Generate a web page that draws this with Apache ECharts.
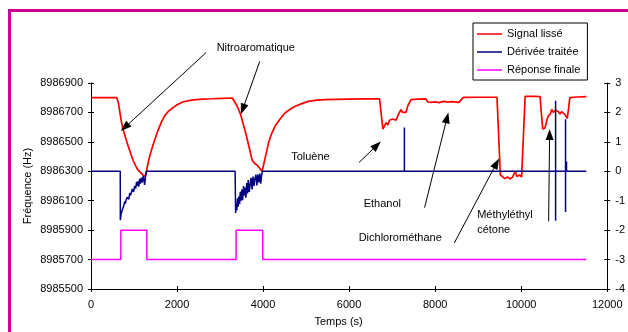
<!DOCTYPE html>
<html>
<head>
<meta charset="utf-8">
<script src="https://cdn.jsdelivr.net/npm/echarts@6/dist/echarts.min.js"></script>
<style>
  html, body { margin: 0; padding: 0; background: #fff; }
  #wrap { position: relative; width: 628px; height: 332px; overflow: hidden; }
  #chart { position: absolute; left: 0; top: 0; width: 628px; height: 332px; }
  #frame { position: absolute; left: 8px; top: 9px; width: 700px; height: 400px;
           border-left: 3px solid #cc0099; border-top: 3px solid #cc0099; pointer-events: none; }
</style>
</head>
<body>
<div id="wrap"><div id="chart"></div><div id="frame"></div></div>
<script>
// signal lissé (Hz, left axis)
const signalTime = [0, 600, 640, 708, 760, 823, 900, 977, 1040, 1092, 1150, 1208, 1262, 1290, 1323, 1380, 1438, 1500, 1554, 1630, 1708, 1800, 1900, 2000, 2131, 2300, 2438, 2623, 2823, 3050, 3285,
  3310, 3400, 3477, 3530, 3592, 3670, 3746, 3800, 3861, 3920, 3977, 4054, 4131, 4190, 4246, 4300, 4362, 4440, 4515, 4630, 4746, 4900, 5054, 5250, 5438, 5700, 5977, 6350, 6708,
  6746, 6785, 6820, 6862, 6900, 6938, 6977, 7015, 7054, 7090, 7131, 7170, 7208, 7240, 7285, 7320, 7362, 7438, 7600, 7785, 7830, 7900, 8000, 8100, 8200, 8300, 8400, 8554,
  8654, 9000, 9438, 9477, 9515, 9560, 9620, 9680, 9740, 9800, 9862, 9900, 9960, 10010, 10054, 10092, 10300, 10438,
  10500, 10554, 10600, 10631, 10680, 10708, 10746, 10800, 10862, 10900, 10938, 10980, 11015, 11069, 11100, 11131, 11300, 11515];
const signalFreq = [8986800, 8986800, 8986760, 8986633, 8986570, 8986509, 8986440, 8986375, 8986335, 8986309, 8986292, 8986275, 8986264, 8986300, 8986353, 8986420, 8986475, 8986530, 8986575, 8986630, 8986675, 8986708, 8986731, 8986752, 8986771, 8986782, 8986787, 8986791, 8986793, 8986796, 8986798,
  8986790, 8986742, 8986687, 8986630, 8986565, 8986470, 8986375, 8986355, 8986342, 8986320, 8986298, 8986398, 8986498, 8986550, 8986587, 8986617, 8986642, 8986672, 8986698, 8986722, 8986742, 8986760, 8986775, 8986783, 8986787, 8986789, 8986791, 8986792, 8986793,
  8986790, 8986587, 8986600, 8986631, 8986615, 8986647, 8986635, 8986655, 8986664, 8986648, 8986676, 8986665, 8986720, 8986700, 8986687, 8986700, 8986742, 8986787, 8986790, 8986792, 8986771, 8986768, 8986772, 8986767, 8986775, 8986770, 8986773, 8986768,
  8986802, 8986803, 8986803, 8986795, 8986276, 8986265, 8986250, 8986262, 8986248, 8986260, 8986300, 8986265, 8986275, 8986262, 8986275, 8986809, 8986810, 8986808,
  8986587, 8986595, 8986650, 8986676, 8986690, 8986720, 8986700, 8986715, 8986706, 8986690, 8986705, 8986700, 8986687, 8986660, 8986720, 8986800, 8986805, 8986808];

// dérivée traitée (right axis)
const deriveTime = [0, 680, 682, 700, 715, 731, 750, 760, 785, 800, 810, 840, 862, 880, 900, 920, 938, 960, 990, 1015, 1040, 1060, 1075, 1092, 1110, 1130, 1150, 1169, 1190, 1215, 1230, 1246, 1265, 1285,
  3350, 3362, 3375, 3390, 3405, 3420, 3440, 3455, 3470, 3490, 3505, 3525, 3545, 3560, 3580, 3600, 3620, 3640, 3655, 3680, 3700, 3720, 3745, 3765, 3790, 3810, 3835, 3855, 3880, 3900, 3925, 3945, 3965, 3985,
  7285, 7285, 7285, 10800, 10800, 10800, 10800, 11031, 11031, 11031, 11031, 11054, 11054, 11054, 11515];
const deriveValue = [0, 0, -1.66, -1.45, -1.5, -1.3, -1.36, -1.18, -1.02, -1.1, -1.0, -0.88, -0.85, -0.95, -0.74, -0.82, -0.78, -0.6, -0.7, -0.5, -0.58, -0.36, -0.5, -0.34, -0.52, -0.26, -0.42, -0.22, -0.38, -0.16, -0.3, -0.46, -0.2, 0,
  0, -1.42, -1.1, -1.32, -0.92, -1.2, -0.85, -1.12, -0.7, -1.0, -0.62, -0.98, -0.5, -0.82, -0.55, -0.9, -0.4, -0.75, -0.3, -0.7, -0.45, -0.22, -0.62, -0.18, -0.5, -0.25, -0.12, -0.48, -0.1, -0.38, -0.08, -0.42, -0.15, 0,
  0, 1.49, 0, 0, 2.4, -1.68, 0, 0, 1.77, -1.38, 0, 0, 0.33, 0, 0];

// réponse finale (right axis)
const reponseTime = [0, 693, 693, 1297, 1297, 3374, 3374, 3992, 3992, 11515];
const reponseValue = [-3, -3, -2, -2, -3, -3, -2, -2, -3, -3];

const xTicks = { min: 0, max: 12000, interval: 2000 };
const leftTicks = { min: 8985500, max: 8986900, interval: 200 };
const rightTicks = { min: -4, max: 3, interval: 1 };

// annotations, in (time, Hz) coordinates
const arrowFrom = [[2677, 8987107], [3923, 8987047], [6231, 8986360], [7754, 8986053], [8446, 8985813], [10638, 8985960]];
const arrowTo = [[692, 8986573], [3485, 8986687], [6738, 8986503], [8308, 8986700], [9485, 8986387], [10662, 8986587]];
const labelText = ['Nitroaromatique', 'Toluène', 'Ethanol', 'Dichlorométhane', 'Méthyléthyl\ncétone'];
const labelPos = [[3831, 8987140], [5100, 8986400], [6773, 8986080], [7188, 8985847], [8977, 8985950]];
const labelAlign = ['center', 'center', 'center', 'center', 'left'];

const zip = (a, b) => a.map((v, i) => [v, b[i]]);
const FONT = 'Liberation Sans, Arial, sans-serif';

const chart = echarts.init(document.getElementById('chart'), null, { renderer: 'canvas' });

const axisCommon = {
  axisLine: { show: true, onZero: false, lineStyle: { color: '#000', width: 1 } },
  axisTick: { show: true, length: 3, lineStyle: { color: '#000' } },
  axisLabel: { color: '#000', fontSize: 11, fontFamily: FONT, formatter: v => String(v) },
  splitLine: { show: false }
};
// second copy of each axis, only to draw the inner half of the crossing ticks
const innerTicks = (range, extra) => Object.assign({
  type: 'value', min: range.min, max: range.max, interval: range.interval,
  axisLine: { show: false, onZero: false },
  axisTick: { show: true, inside: true, length: 3, lineStyle: { color: '#000' } },
  axisLabel: { show: false }, splitLine: { show: false }
}, extra);

chart.setOption({
  animation: false,
  backgroundColor: 'transparent',
  textStyle: { fontFamily: FONT },
  grid: { left: 91, right: 17, top: 83, bottom: 39 },
  legend: {
    orient: 'vertical',
    left: 473, top: 23,
    padding: [5, 7, 4, 4],
    icon: 'rect',
    itemWidth: 25, itemHeight: 1.5, itemGap: 6,
    borderColor: '#000', borderWidth: 1, backgroundColor: '#fff',
    textStyle: { color: '#000', fontSize: 11, fontFamily: FONT, lineHeight: 12 },
    data: ['Signal lissé', 'Dérivée traitée', 'Réponse finale']
  },
  xAxis: [
    Object.assign({}, axisCommon, {
      type: 'value', position: 'bottom', min: xTicks.min, max: xTicks.max, interval: xTicks.interval,
      name: 'Temps (s)', nameLocation: 'middle', nameGap: 27, nameMoveOverlap: false,
      nameTextStyle: { color: '#000', fontSize: 11, fontFamily: FONT, padding: [0, 21, 0, 0] },
      axisLabel: Object.assign({}, axisCommon.axisLabel, { margin: 10 })
    }),
    innerTicks(xTicks, { position: 'bottom' })
  ],
  yAxis: [
    Object.assign({}, axisCommon, {
      type: 'value', position: 'left', min: leftTicks.min, max: leftTicks.max, interval: leftTicks.interval,
      name: 'Fréquence (Hz)', nameLocation: 'middle', nameGap: 58, nameMoveOverlap: false,
      nameTextStyle: { color: '#000', fontSize: 11, fontFamily: FONT },
      axisLabel: Object.assign({}, axisCommon.axisLabel, { margin: 8 })
    }),
    Object.assign({}, axisCommon, {
      type: 'value', position: 'right', min: rightTicks.min, max: rightTicks.max, interval: rightTicks.interval,
      axisLabel: Object.assign({}, axisCommon.axisLabel, { margin: 8 })
    }),
    innerTicks(leftTicks, { position: 'left' }),
    innerTicks(rightTicks, { position: 'right' })
  ],
  series: [
    {
      name: 'Signal lissé', type: 'line', xAxisIndex: 0, yAxisIndex: 0, symbol: 'none',
      lineStyle: { color: '#ff0000', width: 1.7 }, itemStyle: { color: '#ff0000' },
      data: zip(signalTime, signalFreq)
    },
    {
      name: 'Dérivée traitée', type: 'line', xAxisIndex: 0, yAxisIndex: 1, symbol: 'none',
      lineStyle: { color: '#000080', width: 1.5 }, itemStyle: { color: '#000080' },
      data: zip(deriveTime, deriveValue)
    },
    {
      name: 'Réponse finale', type: 'line', xAxisIndex: 0, yAxisIndex: 1, symbol: 'none',
      lineStyle: { color: '#ff00ff', width: 1.5 }, itemStyle: { color: '#ff00ff' },
      data: zip(reponseTime, reponseValue)
    }
  ]
});

// annotations placed through the chart's own scales
const toPx = p => chart.convertToPixel({ seriesIndex: 0 }, p);
const graphics = [];
arrowFrom.forEach((from, i) => {
  const a = toPx(from), b = toPx(arrowTo[i]);
  const dx = b[0] - a[0], dy = b[1] - a[1];
  const len = Math.sqrt(dx * dx + dy * dy);
  const ux = dx / len, uy = dy / len;
  const headLen = 11, headHalf = 4;
  const bx = b[0] - ux * headLen, by = b[1] - uy * headLen;
  graphics.push({
    type: 'line', z: 10,
    shape: { x1: a[0], y1: a[1], x2: bx, y2: by },
    style: { stroke: '#000', lineWidth: 1 }
  });
  graphics.push({
    type: 'polygon', z: 10,
    shape: { points: [[b[0], b[1]], [bx - uy * headHalf, by + ux * headHalf], [bx + uy * headHalf, by - ux * headHalf]] },
    style: { fill: '#000' }
  });
});
labelText.forEach((t, i) => {
  const p = toPx(labelPos[i]);
  graphics.push({
    type: 'text', z: 10,
    style: { text: t, x: p[0], y: p[1], fill: '#000', font: '11px ' + FONT, align: labelAlign[i], verticalAlign: 'middle', lineHeight: 15 }
  });
});
chart.setOption({ graphic: graphics });
</script>
</body>
</html>
